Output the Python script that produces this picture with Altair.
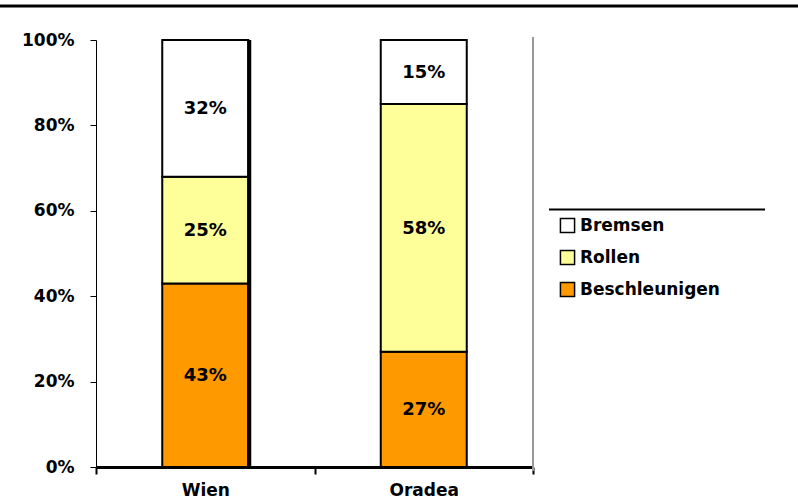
import altair as alt
import pandas as pd

# Share of driving phases per city
cities = ["Wien", "Oradea"]
phases = ["Beschleunigen", "Rollen", "Bremsen"]
wien = [0.43, 0.25, 0.32]
oradea = [0.27, 0.58, 0.15]
legend_order = ["Bremsen", "Rollen", "Beschleunigen"]
legend_colors = ["#FFFFFF", "#FFFF99", "#FF9900"]
y_ticks = [0, 0.2, 0.4, 0.6, 0.8, 1.0]

rows = []
for city, vals in zip(cities, [wien, oradea]):
    for rank, (phase, val) in enumerate(zip(phases, vals)):
        rows.append({"city": city, "phase": phase, "share": val, "rank": rank})
df = pd.DataFrame(rows)

W, H = 437, 427
FONT = "DejaVu Sans"

base = (
    alt.Chart(df)
    .transform_stack(
        stack="share",
        groupby=["city"],
        as_=["y0", "y1"],
        sort=[alt.SortField("rank", order="ascending")],
    )
    .transform_calculate(mid="(datum.y0 + datum.y1) / 2")
)

x_enc = alt.X(
    "city:N",
    sort=cities,
    scale=alt.Scale(paddingInner=0, paddingOuter=0),
    axis=alt.Axis(
        title=None,
        labelAngle=0,
        tickBand="extent",
        domainWidth=3,
        domainColor="black",
        tickColor="black",
        tickWidth=2,
        tickSize=7,
        labelFont=FONT,
        labelFontWeight="bold",
        labelFontSize=17,
        labelColor="black",
        labelPadding=8,
    ),
)

y_axis = alt.Axis(
    title=None,
    format="%",
    values=y_ticks,
    grid=False,
    domainColor="black",
    domainWidth=1,
    tickColor="black",
    tickSize=6,
    tickWidth=1,
    labelFont=FONT,
    labelFontWeight="bold",
    labelFontSize=17,
    labelColor="black",
    labelPadding=16,
)

bars = base.mark_bar(width=86, stroke="black", strokeWidth=2).encode(
    x=x_enc,
    y=alt.Y("y0:Q", scale=alt.Scale(domain=[0, 1]), axis=y_axis),
    y2="y1:Q",
    color=alt.Color(
        "phase:N",
        scale=alt.Scale(domain=legend_order, range=legend_colors),
        legend=alt.Legend(
            title=None,
            orient="none",
            legendX=463,
            legendY=177,
            symbolType="square",
            symbolSize=200,
            symbolStrokeColor="black",
            symbolStrokeWidth=1.5,
            labelFont=FONT,
            labelFontWeight="bold",
            labelFontSize=17,
            labelColor="black",
            labelOffset=4,
            rowPadding=11,
        ),
    ),
)

labels = base.mark_text(
    font=FONT, fontWeight="bold", fontSize=18, color="black", dy=1
).encode(
    x=alt.X("city:N", sort=cities),
    y=alt.Y("mid:Q"),
    text=alt.Text("share:Q", format=".0%"),
)

# heavy shadow edge on the right side of the first bar
shadow = (
    alt.Chart(pd.DataFrame({"city": ["Wien"]}))
    .mark_rule(color="black", strokeWidth=4, xOffset=44)
    .encode(x=alt.X("city:N", sort=cities), y=alt.value(0), y2=alt.value(H))
)

frame = pd.DataFrame({"k": [0]})
top_line = alt.Chart(frame).mark_rule(color="black", strokeWidth=3).encode(
    x=alt.value(-96), x2=alt.value(702), y=alt.value(-34)
)
legend_line = alt.Chart(frame).mark_rule(color="black", strokeWidth=2).encode(
    x=alt.value(453), x2=alt.value(669), y=alt.value(169.5)
)
right_line = alt.Chart(frame).mark_rule(color="#999999", strokeWidth=2).encode(
    x=alt.value(W), y=alt.value(-3), y2=alt.value(H + 4)
)

chart = (
    alt.layer(bars, shadow, labels, top_line, legend_line, right_line)
    .properties(
        width=W,
        height=H,
        autosize=alt.AutoSizeParams(type="none"),
        padding={"left": 96, "top": 40, "right": 265, "bottom": 31},
    )
    .configure_view(stroke=None)
)

chart.save("out.html", embed_options={"renderer": "svg", "actions": False})
